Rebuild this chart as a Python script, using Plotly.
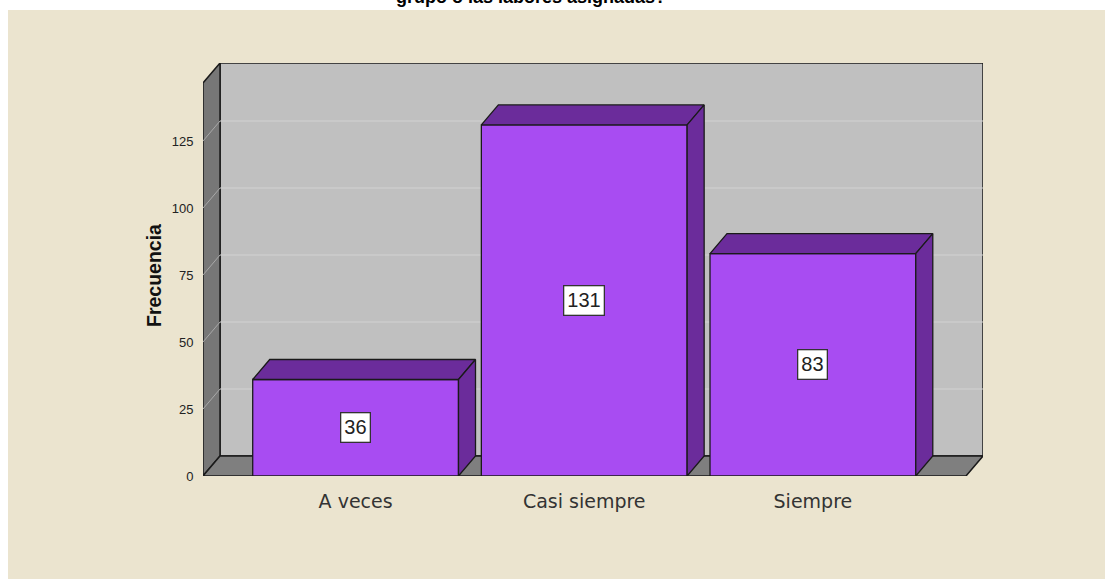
import plotly.graph_objects as go

# Response frequencies
categories = ["A veces", "Casi siempre", "Siempre"]
counts = [36, 131, 83]
tick_values = [0, 25, 50, 75, 100, 125]
title_text = "grupo o las labores asignadas?"

# Figure / plot-area geometry (pixels)
W, H = 1105, 579
L, R, T, B = 203, 983, 63, 476

# Pseudo-3D depth: shift of the back plane in data units
PX_PER_CAT = 228.5
PX_PER_UNIT = 2.68
dx = 17 / PX_PER_CAT
dy = 20 / PX_PER_UNIT

x_lo = -(355.5 - 203) / PX_PER_CAT
x_hi = 2 + (966 - 813) / PX_PER_CAT
y_top = (B - T) / PX_PER_UNIT
bar_w = 0.9

FRONT = "#A84CF2"
DARK = "#6B2C9B"
EDGE = "#1a1a1a"
ARIAL = "Arial, Liberation Sans, sans-serif"
DEJAVU = "DejaVu Sans, sans-serif"

shapes = []
# page background panel
pw = (R - L)
ph = (B - T)
shapes.append(dict(type="rect", xref="paper", yref="paper",
                   x0=(8 - L) / pw, x1=(W + 5 - L) / pw,
                   y0=(B - H - 5) / ph, y1=(B - 10) / ph,
                   fillcolor="#EBE4CF", line=dict(width=0), layer="below"))
# back wall
shapes.append(dict(type="rect", xref="x", yref="y",
                   x0=x_lo + dx, x1=x_hi + dx, y0=dy, y1=y_top,
                   fillcolor="#C0C0C0", line=dict(color=EDGE, width=1.5), layer="below"))
# left wall
shapes.append(dict(type="path", xref="x", yref="y",
                   path=f"M {x_lo},0 L {x_lo + dx},{dy} L {x_lo + dx},{y_top} L {x_lo},{y_top - dy} Z",
                   fillcolor="#777777", line=dict(color=EDGE, width=1.5), layer="below"))
# floor
shapes.append(dict(type="path", xref="x", yref="y",
                   path=f"M {x_lo},0 L {x_hi},0 L {x_hi + dx},{dy} L {x_lo + dx},{dy} Z",
                   fillcolor="#7F7F7F", line=dict(color=EDGE, width=1.5), layer="below"))
# grid lines on the walls
for v in tick_values[1:]:
    shapes.append(dict(type="line", xref="x", yref="y",
                       x0=x_lo + dx, x1=x_hi + dx, y0=v + dy, y1=v + dy,
                       line=dict(color="#D2D2D2", width=1), layer="below"))
    shapes.append(dict(type="line", xref="x", yref="y",
                       x0=x_lo, x1=x_lo + dx, y0=v, y1=v + dy,
                       line=dict(color="#A8A8A8", width=1), layer="below"))

fig = go.Figure()

# bar front faces
fig.add_trace(go.Bar(
    x=list(range(len(categories))), y=counts, width=bar_w,
    marker=dict(color=FRONT, line=dict(color=EDGE, width=1.3)),
    hoverinfo="skip", showlegend=False,
))

# bar top and side faces
for i, v in enumerate(counts):
    xl, xr = i - bar_w / 2, i + bar_w / 2
    fig.add_trace(go.Scatter(
        x=[xl, xr, xr + dx, xl + dx, xl], y=[v, v, v + dy, v + dy, v],
        mode="lines", fill="toself", fillcolor=DARK,
        line=dict(color=EDGE, width=1.3), hoverinfo="skip", showlegend=False))
    fig.add_trace(go.Scatter(
        x=[xr, xr + dx, xr + dx, xr, xr], y=[0, dy, v + dy, v, 0],
        mode="lines", fill="toself", fillcolor=DARK,
        line=dict(color=EDGE, width=1.3), hoverinfo="skip", showlegend=False))

annotations = []
for i, v in enumerate(counts):
    annotations.append(dict(
        x=i, y=v / 2, xref="x", yref="y", text=str(v), showarrow=False,
        font=dict(family=ARIAL, size=20, color="#222222"),
        bgcolor="white", bordercolor="#333333", borderwidth=1.3, borderpad=3,
    ))
annotations.append(dict(
    x=(141 - L) / pw, y=(B - 276) / ph, xref="paper", yref="paper",
    text="<b>Frecuencia</b>", textangle=-90, showarrow=False,
    font=dict(family=ARIAL, size=19.5, color="#111111"),
))
annotations.append(dict(
    x=(531 - L) / pw, y=(B - 9) / ph, xref="paper", yref="paper",
    xanchor="center", yanchor="bottom",
    text=f"<b>{title_text}</b>", showarrow=False,
    font=dict(family=ARIAL, size=18, color="#000000"),
))

fig.update_layout(
    width=W, height=H,
    margin=dict(l=L, r=W - R, t=T, b=H - B, pad=0),
    paper_bgcolor="white", plot_bgcolor="rgba(0,0,0,0)",
    shapes=shapes, annotations=annotations,
    hovermode=False, showlegend=False,
    xaxis=dict(range=[x_lo, x_hi + dx], tickvals=list(range(len(categories))),
               ticktext=categories, showgrid=False, zeroline=False, showline=False,
               ticks="outside", ticklen=8, tickcolor="rgba(0,0,0,0)",
               tickfont=dict(family=DEJAVU, size=19, color="#333333"),
               fixedrange=True),
    yaxis=dict(range=[0, y_top], tickvals=tick_values, showgrid=False, zeroline=False,
               showline=False, ticks="outside", ticklen=6, tickcolor="rgba(0,0,0,0)",
               tickfont=dict(family=ARIAL, size=13, color="#222222"),
               fixedrange=True),
)

fig.write_html("out.html", config={"displayModeBar": False})
